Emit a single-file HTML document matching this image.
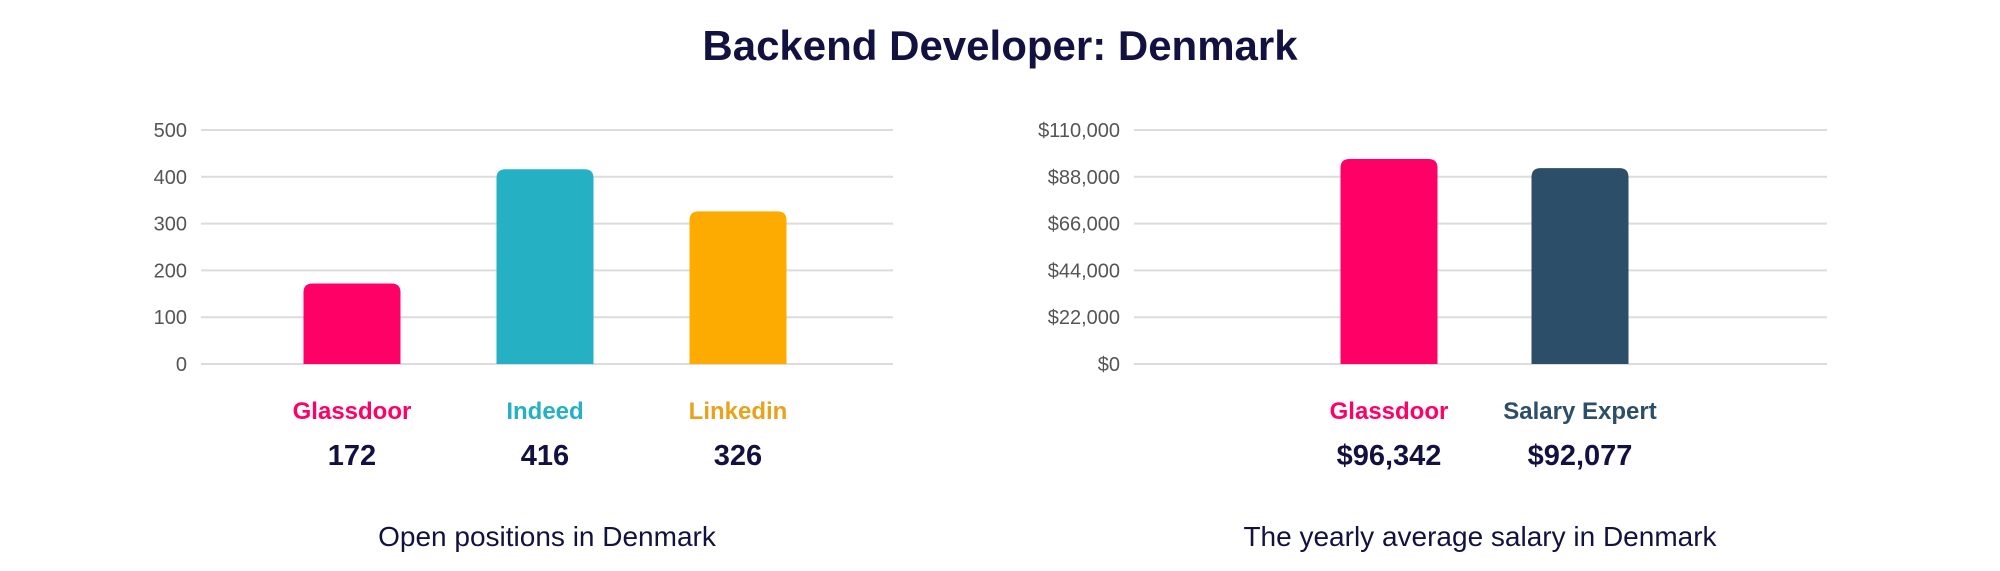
<!DOCTYPE html>
<html><head><meta charset="utf-8"><style>
body{margin:0;background:#fff;}
svg{display:block;font-family:"Liberation Sans",sans-serif;}
</style></head><body>
<svg id="c" width="2000" height="571" viewBox="0 0 2000 571">
<text x="1000" y="60" text-anchor="middle" font-size="42" font-weight="900" fill="#12113f">Backend Developer: Denmark</text>
<g id="left"></g>
<g id="right"></g>
</svg>
<script>
const posCategories = ["Glassdoor","Indeed","Linkedin"];
const posValues = [172,416,326];
const posTicks = [0,100,200,300,400,500];
const posTickLabels = ["0","100","200","300","400","500"];
const posLabels = ["172","416","326"];
const salCategories = ["Glassdoor","Salary Expert"];
const salValues = [96342,92077];
const salTicks = [0,22000,44000,66000,88000,110000];
const salTickLabels = ["$0","$22,000","$44,000","$66,000","$88,000","$110,000"];
const salLabels = ["$96,342","$92,077"];

const NS="http://www.w3.org/2000/svg";
function mk(parent,tag,attrs,text){const e=document.createElementNS(NS,tag);for(const k in attrs)e.setAttribute(k,attrs[k]);if(text!==undefined)e.textContent=text;parent.appendChild(e);return e;}
function barPath(x,y,w,h,r){r=Math.min(r,h);return `M${x},${y+h}V${y+r}Q${x},${y} ${x+r},${y}H${x+w-r}Q${x+w},${y} ${x+w},${y+r}V${y+h}Z`;}

function draw(g,cfg){
  const y0=364,y1=130,max=cfg.ticks[cfg.ticks.length-1];
  const yS=v=>y0-(v/max)*(y0-y1);
  const xS=i=>cfg.c0+i*cfg.step;
  cfg.ticks.forEach((t,i)=>{
    const ln=mk(g,'line',{x1:cfg.gx0,x2:cfg.gx1,y1:yS(t),y2:yS(t),stroke:'#dcdcdc','stroke-width':2});
    
    
    const tx=mk(g,'text',{x:cfg.lx,y:yS(t)+7,'text-anchor':'end','font-size':20,fill:'#555'},cfg.tickLabels[i]);
    
    
  });
  cfg.values.forEach((v,i)=>{
    const cx=xS(i),w=97;
    const b=mk(g,'path',{d:barPath(cx-w/2,yS(v),w,y0-yS(v),9),fill:cfg.colors[i]});
    
    
    const c=mk(g,'text',{x:cx,y:419,'text-anchor':'middle','font-size':24,'font-weight':'bold',fill:cfg.labelColors[i]},cfg.cats[i]);
    
    
    const vl=mk(g,'text',{x:cx,y:465,'text-anchor':'middle','font-size':29,'font-weight':'bold',fill:'#12113f'},cfg.labels[i]);
    
    
  });
  const st=mk(g,'text',{x:cfg.subX,y:546,'text-anchor':'middle','font-size':28,fill:'#12113f'},cfg.sub);
  
  
}
draw(document.getElementById('left'),{ticks:posTicks,tickLabels:posTickLabels,values:posValues,labels:posLabels,cats:posCategories,
  colors:['#ff0066','#26b0c4','#fdab00'],labelColors:['#ff0066','#26b0c4','#e8a21c'],gx0:201,gx1:893,lx:187,c0:352,step:193,subX:547,sub:'Open positions in Denmark'});
draw(document.getElementById('right'),{ticks:salTicks,tickLabels:salTickLabels,values:salValues,labels:salLabels,cats:salCategories,
  colors:['#ff0066','#2d4e68'],labelColors:['#ff0066','#2d4e68'],gx0:1134,gx1:1827,lx:1120,c0:1389,step:191,subX:1480,sub:'The yearly average salary in Denmark'});
</script>
</body></html>
